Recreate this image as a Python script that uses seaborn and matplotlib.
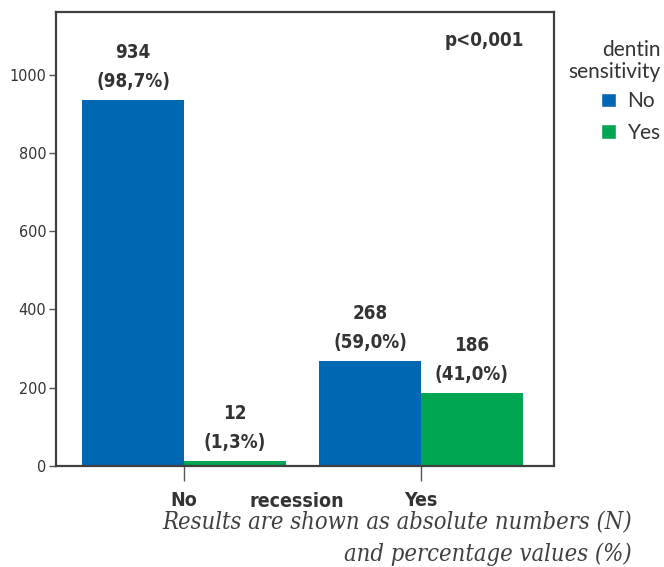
import pandas as pd
import matplotlib.pyplot as plt
import seaborn as sns
from matplotlib.patches import Patch

# values
recession = ['No', 'No', 'Yes', 'Yes']
sensitivity = ['No', 'Yes', 'No', 'Yes']
counts = [934, 12, 268, 186]
percents = ['98,7%', '1,3%', '59,0%', '41,0%']

BLUE = '#0068b3'
GREEN = '#00a651'
TEXT = '#333333'

df = pd.DataFrame({'recession': recession, 'sensitivity': sensitivity,
                   'count': counts, 'pct': percents})

sns.set_style('white')
# condensed face looks closer to the narrow font of the original
plt.rcParams['font.family'] = ['DejaVu Sans']
plt.rcParams['font.stretch'] = 'condensed'

fig = plt.figure(figsize=(6.64, 5.67), dpi=100)
ax = fig.add_axes([56 / 664, 1 - 466 / 567, 498 / 664, 454 / 567])

sns.barplot(data=df, x='recession', y='count', hue='sensitivity',
            palette={'No': BLUE, 'Yes': GREEN}, width=0.86, saturation=1,
            order=['No', 'Yes'], hue_order=['No', 'Yes'], ax=ax, legend=False,
            linewidth=0)

for cont, grp in zip(ax.containers, ['No', 'Yes']):
    sub = df[df['sensitivity'] == grp]
    for bar, (_, row) in zip(cont, sub.iterrows()):
        ax.annotate(f"{row['count']}\n({row['pct']})",
                    (bar.get_x() + bar.get_width() / 2, bar.get_height()),
                    xytext=(0, 6.5), textcoords='offset points',
                    ha='center', va='bottom', fontsize=13.5, fontweight='bold',
                    color=TEXT, linespacing=1.7)

ax.set_xlim(-0.54, 1.561)
ax.set_ylim(0, 1160)
ax.set_yticks([0, 200, 400, 600, 800, 1000])
ax.set_ylabel('')
ax.tick_params(axis='y', direction='out', length=5, width=1, color='#555555',
               labelsize=11.5, labelcolor=TEXT, pad=2, left=True)
ax.tick_params(axis='x', direction='out', length=11, width=1, color='#555555',
               labelsize=14, labelcolor=TEXT, pad=7, bottom=True)
for lab in ax.get_xticklabels():
    lab.set_fontweight('bold')

ax.set_xlabel('recession', fontsize=14, fontweight='bold', color=TEXT)
ax.xaxis.set_label_coords(0.484, -0.058)

for sp in ax.spines.values():
    sp.set_visible(True)
    sp.set_color('#404040')
    sp.set_linewidth(1.6)

ax.text(0.94, 0.938, 'p<0,001', transform=ax.transAxes, ha='right', va='center',
        fontsize=13.5, fontweight='bold', color=TEXT)

handles = [Patch(facecolor=BLUE, label='No'), Patch(facecolor=GREEN, label='Yes')]
leg = fig.legend(handles=handles, title='dentin\nsensitivity',
                 loc='upper right', bbox_to_anchor=(0.995, 1 - 40 / 567),
                 borderaxespad=0, borderpad=0,
                 frameon=False, alignment='right', handlelength=0.72,
                 handleheight=0.72, handletextpad=0.55, labelspacing=0.55,
                 prop={'family': 'Lato', 'size': 15},
                 title_fontproperties={'family': 'Lato', 'size': 15})
leg._legend_box.align = 'right'
leg._legend_box.sep = 7
plt.setp(leg.get_texts(), color=TEXT)
leg.get_title().set_color(TEXT)
leg.get_title().set_multialignment('right')
leg.get_title().set_linespacing(1.1)

foot = 'Results are shown as absolute numbers (N)\nand percentage values (%)'
fig.text(632 / 664, 1 - 511 / 567, foot, ha='right', va='top',
         fontsize=17, style='italic', family=['DejaVu Serif'],
         color='#404040', linespacing=1.45, multialignment='right')

fig.savefig('out.png', dpi=100)
